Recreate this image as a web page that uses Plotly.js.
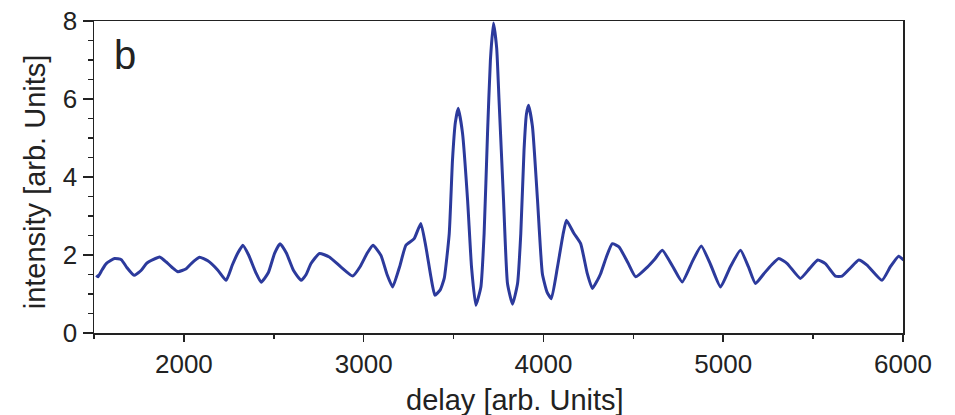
<!DOCTYPE html>
<html>
<head>
<meta charset="utf-8">
<script src="https://cdn.plot.ly/plotly-3.0.1.min.js"></script>
<style>html,body{margin:0;padding:0;background:#fff}#chart{width:955px;height:415px}</style>
</head>
<body>
<div id="chart"></div>
<script>
// delay values [arb. Units]
const delay = [1513,1522,1545,1568,1614,1652,1681,1723,1763,1791,1828,1865,1902,1935,1967,2013,2041,2087,2133,2189,2235,2270,2300,2328,2360,2400,2430,2470,2505,2535,2570,2610,2652,2680,2707,2754,2809,2874,2939,2980,3020,3052,3096,3130,3161,3200,3235,3281,3318,3346,3374,3396,3425,3448,3476,3494,3510,3526,3550,3578,3600,3624,3652,3670,3689,3705,3722,3740,3753,3778,3800,3828,3856,3874,3892,3905,3917,3939,3967,3994,4020,4044,4078,4110,4128,4170,4207,4244,4272,4300,4318,4350,4383,4420,4470,4513,4578,4620,4661,4720,4772,4830,4878,4930,4985,5040,5096,5140,5179,5226,5270,5309,5356,5429,5480,5526,5568,5624,5661,5710,5754,5800,5883,5930,5976,6004];
// intensity values [arb. Units]
const intensity = [1.48,1.44,1.62,1.78,1.91,1.88,1.69,1.48,1.61,1.78,1.88,1.95,1.82,1.68,1.57,1.65,1.78,1.94,1.85,1.61,1.35,1.75,2.05,2.25,2.00,1.55,1.30,1.55,2.05,2.29,2.05,1.60,1.35,1.50,1.78,2.04,1.95,1.69,1.46,1.70,2.05,2.25,1.99,1.50,1.18,1.70,2.25,2.42,2.81,2.21,1.44,0.97,1.10,1.40,2.55,4.43,5.40,5.76,5.12,3.41,1.69,0.71,1.18,2.55,5.12,7.00,7.95,7.30,5.97,3.41,1.27,0.74,1.27,2.55,4.69,5.60,5.84,5.29,3.41,1.52,1.05,0.88,1.69,2.55,2.89,2.55,2.29,1.52,1.14,1.35,1.52,1.95,2.29,2.21,1.80,1.44,1.69,1.90,2.12,1.70,1.31,1.85,2.23,1.75,1.18,1.70,2.12,1.70,1.27,1.52,1.75,1.91,1.78,1.40,1.65,1.87,1.78,1.46,1.46,1.68,1.87,1.74,1.35,1.70,1.97,1.87];

const xTitle = 'delay [arb. Units]';
const yTitle = 'intensity [arb. Units]';
const panelLabel = 'b';

const FONT = '"Liberation Sans", Arial, Helvetica, sans-serif';
const TXT = '#222222';

const trace = {
  x: delay, y: intensity, type: 'scatter', mode: 'lines',
  line: {color: '#2c3a9c', width: 3, shape: 'spline', smoothing: 0.45},
  hoverinfo: 'skip'
};

const layout = {
  width: 955, height: 415,
  margin: {l: 94, r: 52, t: 21, b: 82, pad: 0},
  paper_bgcolor: '#ffffff', plot_bgcolor: '#ffffff',
  showlegend: false,
  font: {family: FONT, color: TXT, size: 26},
  xaxis: {
    range: [1500, 6000], dtick: 1000, tick0: 0,
    ticks: 'outside', ticklen: 7, tickwidth: 1.5, tickcolor: '#222',
    showline: true, linecolor: '#222', linewidth: 1.5, mirror: true,
    showgrid: false, zeroline: false,
    tickfont: {family: FONT, size: 26, color: TXT},
    minor: {dtick: 500, tick0: 0, ticks: 'outside', ticklen: 4, tickwidth: 1.5, tickcolor: '#222', showgrid: false}
  },
  yaxis: {
    range: [0, 8], dtick: 2, tick0: 0,
    ticks: 'outside', ticklen: 10, tickwidth: 1.5, tickcolor: '#222',
    showline: true, linecolor: '#222', linewidth: 1.5, mirror: true,
    showgrid: false, zeroline: false,
    tickfont: {family: FONT, size: 26, color: TXT},
    minor: {dtick: 0.5, tick0: 0, ticks: 'outside', ticklen: 5, tickwidth: 1.5, tickcolor: '#222', showgrid: false}
  },
  annotations: [
    {text: xTitle, xref: 'paper', yref: 'paper', x: 0.52, y: -0.215, xanchor: 'center', yanchor: 'middle', showarrow: false, font: {family: FONT, size: 29, color: TXT}},
    {text: yTitle, xref: 'paper', yref: 'paper', x: -0.073, y: 0.486, xanchor: 'center', yanchor: 'middle', textangle: -90, showarrow: false, font: {family: FONT, size: 29, color: TXT}},
    {text: panelLabel, xref: 'paper', yref: 'paper', x: 0.022, y: 0.89, xanchor: 'left', yanchor: 'middle', showarrow: false, font: {family: FONT, size: 40, color: TXT}}
  ]
};

Plotly.newPlot('chart', [trace], layout, {staticPlot: true, displayModeBar: false});
</script>
</body>
</html>
